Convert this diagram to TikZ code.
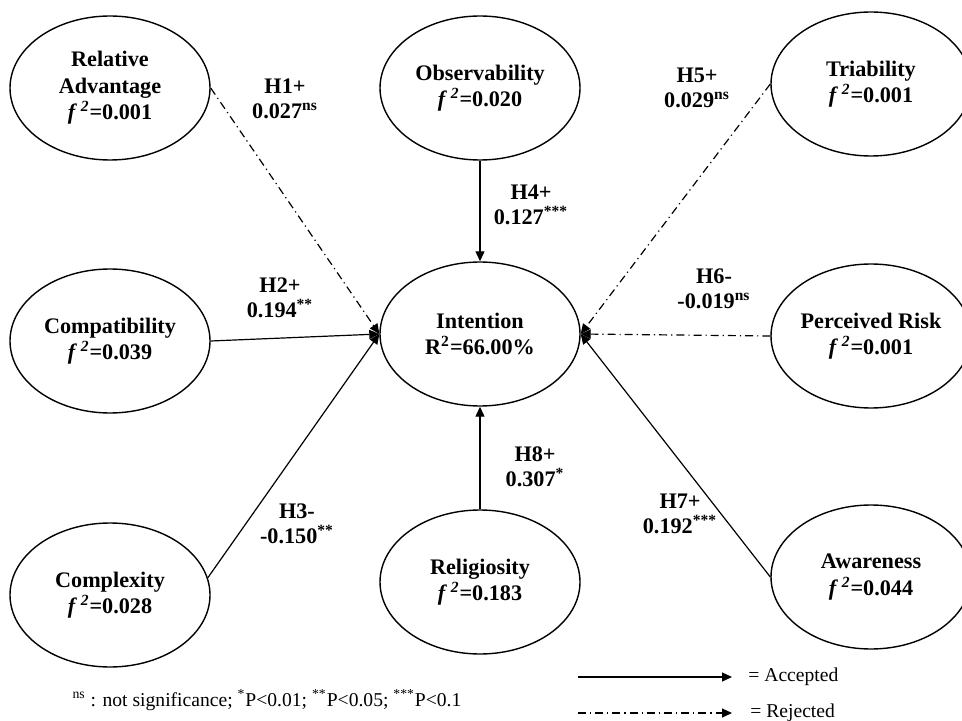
\documentclass[tikz,border=0pt]{standalone}
\usepackage{fontspec}
\setmainfont{Liberation Serif}
\usetikzlibrary{shapes,arrows.meta}

\newcommand{\effsize}[1]{\textit{f}\,\textsuperscript{\textit{2}}=#1}

\tikzset{
	construct/.style = {ellipse, draw, line width=0.7pt, minimum width=100pt, minimum height=72pt, inner sep=0pt, align=center, font=\fontsize{11.1}{13.3}\selectfont\bfseries},
	coef/.style = {align=center, inner sep=0pt, font=\fontsize{11.1}{12.5}\selectfont\bfseries},
	legendtext/.style = {inner sep=0pt, font=\fontsize{9.8}{12}\selectfont},
	accepted/.style = {-{Triangle[length=5pt, width=4.5pt]}, line width=0.6pt},
	rejected/.style = {-{Triangle[length=5pt, width=4.5pt]}, line width=0.6pt, dash pattern=on 4pt off 2pt on 0.6pt off 2pt}
}

\begin{document}
\begin{tikzpicture}[x=0.5pt, y=-0.5pt]
			\useasboundingbox (0,0) rectangle (962,721);
			
			% constructs
			\node[construct] (ra) at (110,88) {Relative\\Advantage\\\effsize{0.001}};
			\node[construct] (obs) at (480,88) {Observability\\\effsize{0.020}};
			\node[construct] (tri) at (871,84) {Triability\\\effsize{0.001}};
			\node[construct] (comp) at (110,341) {Compatibility\\\effsize{0.039}};
			\node[construct] (int) at (480,334) {Intention\\R\textsuperscript{2}=66.00\%};
			\node[construct] (risk) at (871,336) {Perceived Risk\\\effsize{0.001}};
			\node[construct] (cplx) at (110,595) {Complexity\\\effsize{0.028}};
			\node[construct] (rel) at (480,582) {Religiosity\\\effsize{0.183}};
			\node[construct] (awa) at (871,577) {Awareness\\\effsize{0.044}};
			
			% paths
			\draw[rejected] (ra.east) -- (int.west);
			\draw[accepted] (comp.east) -- (int.west);
			\draw[accepted] (cplx.10) -- (int.west);
			\draw[accepted] (obs.south) -- (int.north);
			\draw[rejected] (tri.west) -- (int.east);
			\draw[rejected] (risk.west) -- (int.east);
			\draw[accepted] (awa.west) -- (int.east);
			\draw[accepted] (rel.north) -- (int.south);
			
			\node[coef] (h1) at (285,99) {H1+\\0.027\textsuperscript{ns}};
			\node[coef] (h2) at (280,298) {H2+\\0.194\textsuperscript{**}};
			\node[coef] (h3) at (297,524) {H3-\\-0.150\textsuperscript{**}};
			\node[coef] (h4) at (531,205) {H4+\\0.127\textsuperscript{***}};
			\node[coef] (h5) at (697,88) {H5+\\0.029\textsuperscript{ns}};
			\node[coef] (h6) at (714,289) {H6-\\-0.019\textsuperscript{ns}};
			\node[coef] (h7) at (680,514) {H7+\\0.192\textsuperscript{***}};
			\node[coef] (h8) at (535,467) {H8+\\0.307\textsuperscript{*}};
			
			% legend
			\coordinate (acc0) at (578,677);
			\coordinate (acc1) at (732,677);
			\coordinate (rej0) at (578,713);
			\coordinate (rej1) at (732,713);
			\draw[accepted] (acc0) -- (acc1);
			\draw[rejected] (rej0) -- (rej1);
			\node[legendtext, anchor=west] (acclabel) at (748,677) {= Accepted};
			\node[legendtext, anchor=west] (rejlabel) at (750,713) {= Rejected};
			
			\node[legendtext] (note) at (267,700) {\textsuperscript{ns} : not significance; \textsuperscript{*}P<0.01; \textsuperscript{**}P<0.05; \textsuperscript{***}P<0.1};
		\end{tikzpicture}
\end{document}
